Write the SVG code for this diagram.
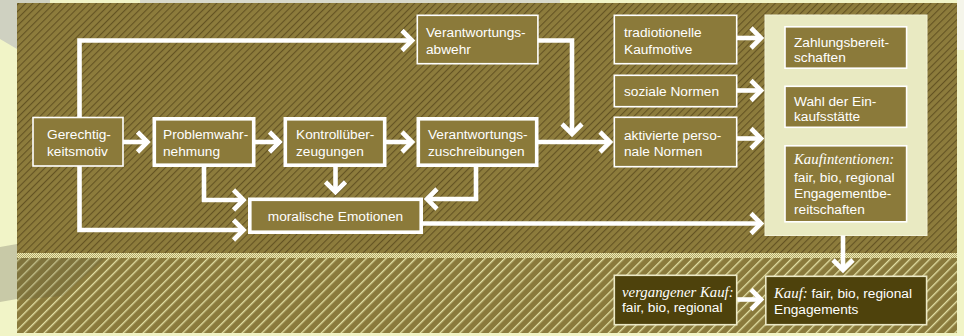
<svg xmlns="http://www.w3.org/2000/svg" width="964" height="336" viewBox="0 0 964 336">
<style>
.t{font-family:"Liberation Sans",Arial,sans-serif;font-size:13.7px;fill:#fff}
.i{font-family:"Liberation Serif","Times New Roman",serif;font-style:italic;font-size:14.8px;fill:#fff}
.n{fill:#8b7a3a;stroke:#fff;stroke-width:1.6}
.nb{fill:#8b7a3a;stroke:#fff;stroke-width:3.6}
.nd{fill:#4e420c;stroke:#ebe8c6;stroke-width:1.6}
.c{fill:none;stroke:#fff;stroke-width:4.6;marker-end:url(#ah)}
.cl{fill:none;stroke:#fff;stroke-width:4.6}
</style>
<defs>
<pattern id="hu" patternUnits="userSpaceOnUse" width="5" height="5" patternTransform="rotate(45)">
<rect width="5" height="5" fill="#8d7c3c"/>
<line x1="0.6" y1="0" x2="0.6" y2="5" stroke="#5e4f20" stroke-width="1"/>
</pattern>
<pattern id="hl" patternUnits="userSpaceOnUse" width="7" height="7" patternTransform="rotate(45)">
<rect width="7" height="7" fill="#8a7a3c"/>
<line x1="0.7" y1="0" x2="0.7" y2="7" stroke="#e6e3a8" stroke-width="1.3"/>
</pattern>
<pattern id="chk" patternUnits="userSpaceOnUse" width="2" height="2">
<rect width="2" height="2" fill="#ece9b8"/>
<rect width="1" height="1" fill="#b3a865"/>
<rect x="1" y="1" width="1" height="1" fill="#b3a865"/>
</pattern>
<marker id="ah" markerUnits="userSpaceOnUse" markerWidth="30" markerHeight="30" viewBox="-15 -15 30 30" refX="0" refY="0" orient="auto" overflow="visible">
<path d="M-10,-10 L0,0 L-10,10" fill="none" stroke="#fff" stroke-width="4.6"/>
</marker>
</defs>
<g id="background">
<rect x="0" y="0" width="964" height="336" fill="#f1f4c7"/>
<polygon points="0,0 50,0 50,3 17,3 17,49 0,39" fill="#cfd1c1"/>
<rect x="140" y="0" width="420" height="3" fill="#d8d9cb"/>
<rect x="957" y="0" width="7" height="50" fill="#f5f5ea"/>
<polygon points="0,247 17,244 17,299 0,302" fill="#c8c9a7"/>
<rect x="17" y="3" width="940" height="250" fill="url(#hu)"/>
<rect x="17" y="253" width="940" height="5" fill="url(#chk)"/>
<rect x="17" y="258" width="940" height="75" fill="url(#hl)"/>
<polygon points="17,258 105,258 62,296 17,300" fill="#5a5a40" opacity="0.22"/>
<rect x="765" y="15" width="162" height="220.5" fill="#e9eac2" stroke="#f2f2d6" stroke-width="1"/>
</g>
<g id="connectors">
<path class="c" d="M123,142 H147.5"/>
<path class="c" d="M255,142 H279.5"/>
<path class="c" d="M386,142 H412"/>
<path class="c" d="M538,142 H610"/>
<path class="c" d="M79.5,117 V40.5 H412"/>
<path class="c" d="M538,40.5 H572 V134"/>
<path class="c" d="M79.5,166 V230 H243.5"/>
<path class="c" d="M204,167 V200 H243.5"/>
<path class="c" d="M335.5,167 V192"/>
<path class="c" d="M476,167 V199 H427"/>
<path class="c" d="M423,223.5 H761"/>
<path class="c" d="M737,38 H761"/>
<path class="c" d="M737,90.5 H761"/>
<path class="c" d="M737,138.5 H761"/>
<path class="c" d="M843,235.5 V270"/>
<path class="c" d="M737,299.5 H761"/>
</g>
<g id="gerechtigkeitsmotiv">
<rect class="n" x="33" y="117.5" width="90" height="48.5" stroke="#e4e0c0"/>
<text class="t" x="47" y="139">Gerechtig-</text>
<text class="t" x="47" y="155.5">keitsmotiv</text>
</g>
<g id="problemwahrnehmung">
<rect class="nb" x="154.3" y="118.8" width="99.4" height="46.4"/>
<text class="t" x="163" y="139">Problemwahr-</text>
<text class="t" x="163" y="155.5">nehmung</text>
</g>
<g id="kontrollueberzeugungen">
<rect class="nb" x="285.3" y="118.8" width="99.4" height="46.4"/>
<text class="t" x="296" y="139">Kontrollüber-</text>
<text class="t" x="296" y="155.5">zeugungen</text>
</g>
<g id="verantwortungszuschreibungen">
<rect class="nb" x="418.3" y="118.8" width="118.4" height="46.4"/>
<text class="t" x="428" y="139">Verantwortungs-</text>
<text class="t" x="428" y="155.5">zuschreibungen</text>
</g>
<g id="verantwortungsabwehr">
<rect class="n" x="417.3" y="15.3" width="120.6" height="48.4"/>
<text class="t" x="426" y="37">Verantwortungs-</text>
<text class="t" x="426" y="53.5">abwehr</text>
</g>
<g id="traditionelle-kaufmotive">
<rect class="n" x="614.3" y="15.3" width="122.4" height="48.4"/>
<text class="t" x="624" y="37">tradiotionelle</text>
<text class="t" x="624" y="53.5">Kaufmotive</text>
</g>
<g id="soziale-normen">
<rect class="n" x="614.3" y="75.3" width="122.4" height="31.4"/>
<text class="t" x="624" y="95.5">soziale Normen</text>
</g>
<g id="aktivierte-personale-normen">
<rect class="n" x="614.3" y="117.3" width="122.4" height="49.4"/>
<text class="t" x="624" y="139.5">aktivierte perso-</text>
<text class="t" x="624" y="156">nale Normen</text>
</g>
<g id="moralische-emotionen">
<rect class="nb" x="249.8" y="199.3" width="171.4" height="32.9"/>
<text class="t" x="335.5" y="221" text-anchor="middle">moralische Emotionen</text>
</g>
<g id="zahlungsbereitschaften">
<rect class="n" x="785" y="26.8" width="121.6" height="41.4" stroke-width="1.2"/>
<text class="t" x="794" y="46.5">Zahlungsbereit-</text>
<text class="t" x="794" y="61.5">schaften</text>
</g>
<g id="wahl-der-einkaufsstaette">
<rect class="n" x="785" y="86.3" width="121.6" height="41" stroke-width="1.2"/>
<text class="t" x="794" y="105.5">Wahl der Ein-</text>
<text class="t" x="794" y="120.5">kaufsstätte</text>
</g>
<g id="kaufintentionen">
<rect class="n" x="785" y="145.8" width="121.6" height="76" stroke-width="1.2"/>
<text class="i" x="794" y="164">Kaufintentionen:</text>
<text class="t" x="794" y="181.5">fair, bio, regional</text>
<text class="t" x="794" y="197.5">Engagementbe-</text>
<text class="t" x="794" y="213.5">reitschaften</text>
</g>
<g id="vergangener-kauf">
<rect class="nd" x="614.3" y="275.3" width="122.4" height="49.4"/>
<text class="i" x="622" y="296.5">vergangener Kauf:</text>
<text class="t" x="622" y="312">fair, bio, regional</text>
</g>
<g id="kauf">
<rect class="nd" x="765.8" y="276.3" width="160.8" height="48.4"/>
<text x="774" y="298"><tspan class="i">Kauf:</tspan><tspan class="t"> fair, bio, regional</tspan></text>
<text class="t" x="774" y="313.5">Engagements</text>
</g>
</svg>
